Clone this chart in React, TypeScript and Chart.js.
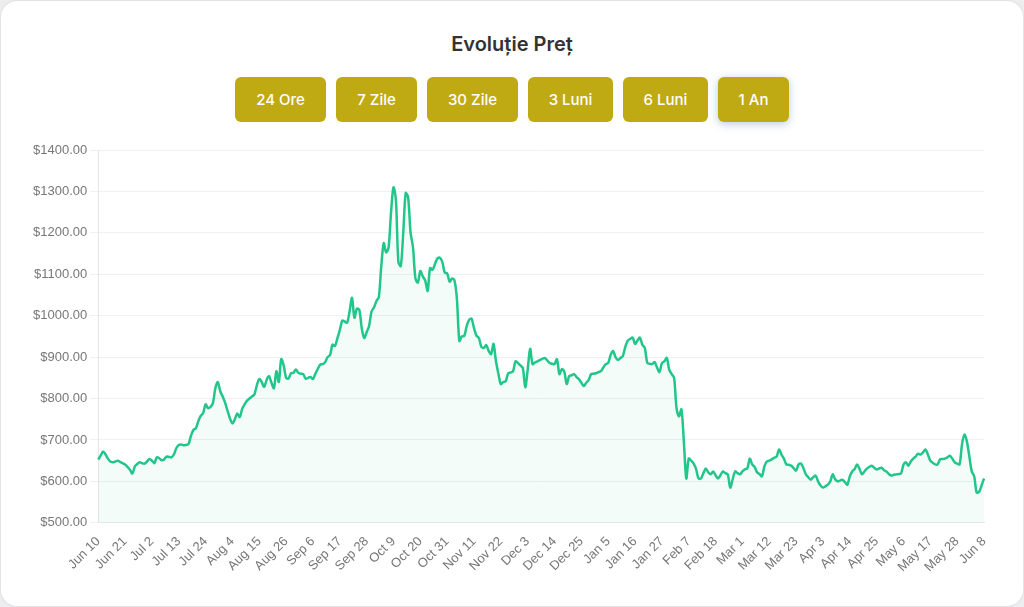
import React, { useEffect, useRef } from "react";
import { Chart, registerables } from "chart.js";

Chart.register(...registerables);

const TITLE = "Evoluție Preț";
const RANGES = ["24 Ore", "7 Zile", "30 Zile", "3 Luni", "6 Luni", "1 An"];
const ACTIVE_RANGE = "1 An";

const START_DATE = "2022-06-10";
const MONTHS = ["Jan", "Feb", "Mar", "Apr", "May", "Jun", "Jul", "Aug", "Sep", "Oct", "Nov", "Dec"];
const TICK_EVERY = 11;
const TICK_LABELS = [
  "Jun 10", "Jun 21", "Jul 2", "Jul 13", "Jul 24", "Aug 4", "Aug 15", "Aug 26", "Sep 6", "Sep 17",
  "Sep 28", "Oct 9", "Oct 20", "Oct 31", "Nov 11", "Nov 22", "Dec 3", "Dec 14", "Dec 25", "Jan 5",
  "Jan 16", "Jan 27", "Feb 7", "Feb 18", "Mar 1", "Mar 12", "Mar 23", "Apr 3", "Apr 14", "Apr 25",
  "May 6", "May 17", "May 28", "Jun 8",
];

const PRICES = [
  653, 662, 672, 665, 655, 648, 646, 648, 650, 647,
  644, 641, 635, 628, 619, 636, 642, 646, 644, 643,
  648, 654, 650, 644, 658, 656, 651, 653, 660, 659,
  658, 665, 680, 688, 689, 687, 688, 690, 710, 724,
  728, 745, 758, 765, 786, 777, 780, 789, 825, 840,
  818, 805, 790, 770, 752, 740, 750, 764, 755, 775,
  786, 795, 800, 805, 810, 832, 847, 840, 828, 845,
  854, 838, 825, 866, 840, 895, 880, 850, 848, 861,
  862, 870, 862, 860, 859, 848, 850, 852, 847, 860,
  872, 882, 883, 888, 900, 905, 930, 927, 945, 965,
  988, 986, 983, 1010, 1043, 995, 1017, 1014, 970, 946,
  960, 975, 1010, 1020, 1035, 1045, 1120, 1175, 1153, 1165,
  1250, 1310, 1280, 1130, 1120, 1200, 1296, 1286, 1201, 1165,
  1090, 1080, 1108, 1095, 1085, 1060, 1115, 1111, 1125, 1138,
  1140, 1130, 1104, 1102, 1082, 1090, 1085, 1040, 939, 950,
  951, 975, 990, 993, 970, 952, 946, 925, 922, 929,
  915, 907, 932, 890, 860, 835, 840, 842, 861, 863,
  866, 890, 886, 880, 874, 827, 870, 920, 883, 887,
  890, 893, 896, 898, 892, 886, 884, 883, 895, 859,
  871, 865, 835, 854, 856, 859, 852, 847, 838, 830,
  838, 845, 859, 860, 861, 864, 866, 875, 883, 886,
  905, 915, 900, 893, 898, 903, 925, 940, 944, 947,
  932, 940, 947, 930, 922, 886, 884, 883, 888, 875,
  864, 885, 890, 898, 870, 859, 850, 777, 757, 774,
  696, 607, 655, 650, 643, 630, 607, 607, 620, 631,
  622, 617, 624, 615, 607, 615, 624, 620, 617, 585,
  605, 624, 620, 617, 624, 629, 631, 655, 641, 635,
  622, 618, 612, 636, 648, 650, 653, 657, 660, 677,
  665, 655, 641, 640, 638, 632, 626, 641, 643, 632,
  617, 610, 604, 610, 614, 600, 590, 585, 588, 592,
  600, 617, 605, 600, 602, 604, 598, 592, 612, 624,
  630, 641, 630, 617, 624, 631, 635, 638, 633, 629,
  631, 633, 627, 624, 618, 614, 616, 617, 618, 619,
  640, 646, 638, 648, 655, 660, 667, 665, 670, 677,
  665, 650, 645, 641, 641, 653, 654, 655, 658, 662,
  655, 646, 643, 641, 690, 713, 696, 660, 624, 612,
  573, 575, 590, 607,
];

const Y_MIN = 500;
const Y_MAX = 1400;
const Y_STEP = 100;

const LINE_COLOR = "#22c68a";
const BUTTON_COLOR = "#c0aa14";
const BUTTON_WIDTHS = [91, 81, 91, 85, 85, 71];

function buildDayLabels(): string[] {
  const d = new Date(START_DATE + "T00:00:00Z");
  const out: string[] = [];
  for (let i = 0; i < PRICES.length; i++) {
    out.push(MONTHS[d.getUTCMonth()] + " " + d.getUTCDate());
    d.setUTCDate(d.getUTCDate() + 1);
  }
  return out;
}

function PriceChart() {
  const ref = useRef<HTMLCanvasElement | null>(null);
  useEffect(() => {
    if (!ref.current) return;
    const tickFont = { family: "'Liberation Sans', Arial, sans-serif", size: 13 };
    const chart = new Chart(ref.current, {
      type: "line",
      data: {
        labels: buildDayLabels(),
        datasets: [
          {
            data: PRICES,
            borderColor: LINE_COLOR,
            borderWidth: 2.5,
            backgroundColor: "rgba(34,198,138,0.05)",
            fill: "start",
            pointRadius: 0,
            tension: 0.3,
          },
        ],
      },
      options: {
        animation: false,
        responsive: true,
        maintainAspectRatio: false,
        layout: { padding: { left: 0, right: 16, top: 16, bottom: 0 } },
        plugins: { legend: { display: false }, tooltip: { enabled: false } },
        scales: {
          x: {
            grid: { display: false },
            border: { display: true, color: "#e6e6e6" },
            ticks: {
              autoSkip: false,
              minRotation: 45,
              maxRotation: 45,
              color: "#777",
              font: tickFont,
              callback: (_v: any, i: number) => (i % TICK_EVERY === 0 ? TICK_LABELS[i / TICK_EVERY] : ""),
            },
          },
          y: {
            min: Y_MIN,
            max: Y_MAX,
            grid: { color: "#f0f0f0" },
            border: { display: true, color: "#e6e6e6" },
            ticks: {
              stepSize: Y_STEP,
              color: "#777",
              font: tickFont,
              callback: (v: any) => "$" + Number(v).toFixed(2),
            },
          },
        },
      },
    });
    return () => chart.destroy();
  }, []);
  return <canvas ref={ref} />;
}

export default function App() {
  useEffect(() => {
    document.body.style.margin = "0";
    document.body.style.background = "#eceef0";
  }, []);
  return (
    <div
      style={{
        position: "absolute",
        left: 1,
        top: 1,
        width: 1022,
        height: 605,
        background: "#fff",
        borderRadius: 16,
        boxShadow: "0 0 3px rgba(0,0,0,0.12)",
        fontFamily: "Inter, 'Noto Sans', sans-serif",
        overflow: "hidden",
      }}
    >
      <div
        style={{
          position: "absolute",
          top: 29,
          left: 0,
          right: 0,
          textAlign: "center",
          fontSize: 20,
          fontWeight: 600,
          color: "#333",
          lineHeight: "28px",
        }}
      >
        {TITLE}
      </div>
      <div
        style={{
          position: "absolute",
          top: 76,
          left: 0,
          right: 0,
          display: "flex",
          justifyContent: "center",
          gap: 10,
        }}
      >
        {RANGES.map((r, i) => (
          <div
            key={r}
            style={{
              background: BUTTON_COLOR,
              color: "#fff",
              fontSize: 15,
              fontWeight: 500,
              height: 45,
              lineHeight: "45px",
              width: BUTTON_WIDTHS[i],
              textAlign: "center",
              borderRadius: 6,
              boxShadow: r === ACTIVE_RANGE ? "0 2px 8px rgba(90,140,200,0.45)" : "none",
            }}
          >
            {r}
          </div>
        ))}
      </div>
      <div style={{ position: "absolute", left: 29, top: 133, width: 970, height: 444 }}>
        <PriceChart />
      </div>
    </div>
  );
}
